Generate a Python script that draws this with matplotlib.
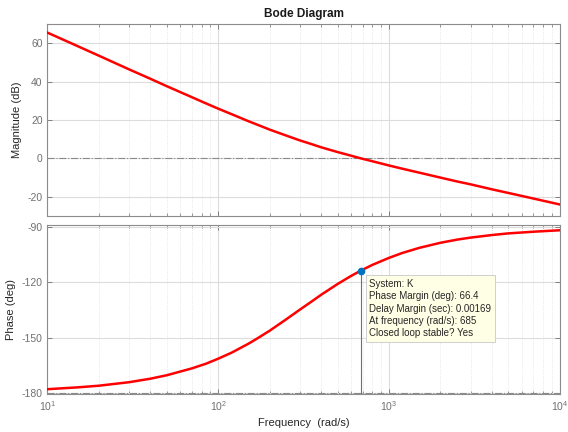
import numpy as np
import matplotlib
matplotlib.use('Agg')
import matplotlib.pyplot as plt
from matplotlib.ticker import LogLocator, NullFormatter

# values (frequency in rad/s)
freq = [10, 15, 20, 30, 40, 50, 70, 85, 100, 120, 150, 170, 200, 250, 300,
        350, 400, 500, 600, 685, 800, 1000, 1200, 1500, 2000, 2500, 3000,
        4000, 5000, 7000, 10000]
mag_db = [65.5, 58.5, 53.5, 46.4, 41.5, 37.6, 31.9, 28.6, 25.9, 23.0, 19.4,
          17.5, 15.0, 11.9, 9.4, 7.5, 5.8, 3.3, 1.4, 0.0, -1.5, -3.7, -5.4,
          -7.4, -10.0, -12.0, -13.5, -16.1, -18.0, -20.9, -24.0]
phase_deg = [-178.1, -177.1, -176.2, -174.3, -172.4, -170.5, -166.8, -164.2,
             -161.5, -158.2, -153.4, -150.4, -146.3, -140.1, -134.9, -130.6,
             -126.8, -120.9, -116.5, -113.6, -110.5, -106.7, -104.0, -101.3,
             -98.5, -96.8, -95.7, -94.3, -93.4, -92.5, -91.7]

pm_freq = 685
pm_phase = -113.6
tip_lines = ["System: K", "Phase Margin (deg): 66.4", "Delay Margin (sec): 0.00169",
             "At frequency (rad/s): 685", "Closed loop stable? Yes"]

plt.rcParams['font.family'] = ['Liberation Sans', 'DejaVu Sans']
plt.rcParams['axes.unicode_minus'] = False

fig = plt.figure(figsize=(5.68, 4.32), dpi=100)
ax1 = fig.add_axes([0.0836, 0.5, 0.902, 0.4444])
ax2 = fig.add_axes([0.0836, 0.088, 0.902, 0.3905])

tick_col = '#707070'
for ax in (ax1, ax2):
    ax.set_xscale('log')
    ax.set_xlim(10, 1e4)
    ax.xaxis.set_major_locator(LogLocator(base=10, numticks=10))
    ax.xaxis.set_minor_locator(LogLocator(base=10, subs=np.arange(2, 10), numticks=20))
    ax.xaxis.set_minor_formatter(NullFormatter())
    ax.grid(True, which='major', color='#dcdcdc', linewidth=0.8, linestyle='-')
    ax.grid(True, which='minor', axis='x', color='#e2e2e2', linewidth=0.6, linestyle=':')
    ax.tick_params(which='both', direction='in', top=True, right=True,
                   colors=tick_col, labelsize=7.5)
    ax.tick_params(which='major', length=3.5, width=0.6)
    ax.tick_params(which='minor', length=2, width=0.5)
    for sp in ax.spines.values():
        sp.set_color('#8c8c8c')
        sp.set_linewidth(0.8)
    ax.set_axisbelow(True)

# magnitude
ax1.plot(freq, mag_db, color='#ff0000', linewidth=1.8, zorder=3)
ax1.axhline(0, color='#8a8a8a', linewidth=0.8, linestyle='-.', zorder=2)
ax1.set_ylim(-30, 70)
ax1.set_yticks([-20, 0, 20, 40, 60])
ax1.tick_params(axis='x', labelbottom=False)
ax1.set_ylabel('Magnitude (dB)', fontsize=8, color='#262626')
ax1.set_title('Bode Diagram', fontsize=8.5, fontweight='bold', color='#1a1a1a', pad=5)

# phase
ax2.plot(freq, phase_deg, color='#ff0000', linewidth=1.8, zorder=3)
ax2.axhline(-180, color='#8a8a8a', linewidth=0.8, linestyle='-.', zorder=2)
ax2.set_ylim(-180.7, -89)
ax2.set_yticks([-180, -150, -120, -90])
ax2.set_ylabel('Phase (deg)', fontsize=8, color='#262626')
ax2.set_xlabel('Frequency  (rad/s)', fontsize=8, color='#262626')

# phase margin marker
ax2.plot([pm_freq, pm_freq], [-180.7, pm_phase], color='#707070', linewidth=0.8, zorder=3)
ax2.plot(pm_freq, pm_phase, 'o', color='#0072bd', markersize=4.5, zorder=5)
ax2.annotate('\n'.join(tip_lines), xy=(pm_freq, pm_phase), xytext=(6, -6),
             textcoords='offset points', ha='left', va='top', fontsize=7,
             color='#262626', linespacing=1.3,
             bbox=dict(boxstyle='square,pad=0.35', facecolor='#ffffe6',
                       edgecolor='#c8c8c8', linewidth=0.6), zorder=6)

fig.savefig('out.png', dpi=100)
